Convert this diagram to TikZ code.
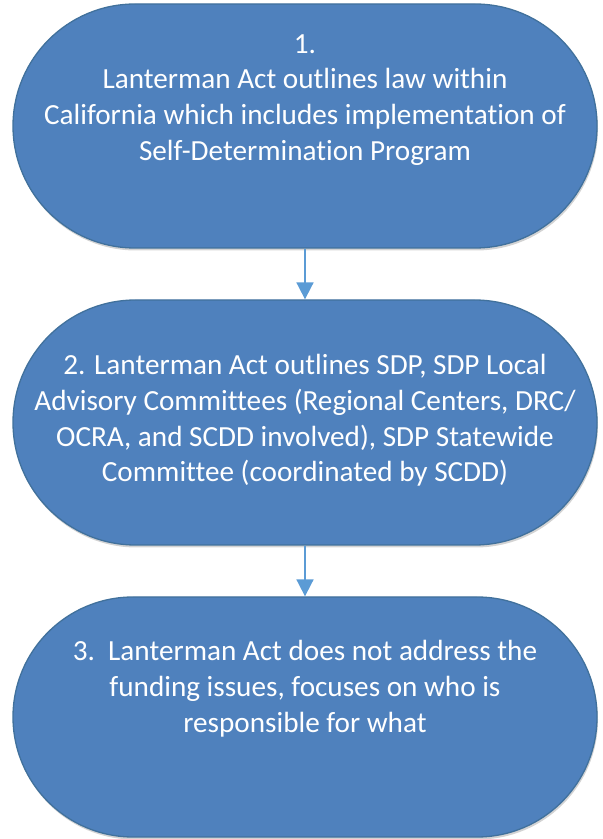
\documentclass[tikz,border=0pt]{standalone}
\usepackage{fontspec}
\setmainfont{Carlito}[Ligatures=NoCommon]
\usetikzlibrary{shapes.misc,shadows,arrows.meta}
\definecolor{boxfill}{HTML}{4F81BD}
\definecolor{boxline}{HTML}{41719C}
\definecolor{arrowblue}{HTML}{5B9BD5}
\tikzset{
	stadium/.style={rounded rectangle, draw=boxline, line width=1.3pt, fill=boxfill, minimum width=584pt, inner sep=0pt,
		drop shadow={shadow xshift=1pt, shadow yshift=-2.5pt, opacity=0.35}},
	boxtext/.style={text=white, align=center, font=\fontsize{29.2}{35.8}\selectfont},
	flowarrow/.style={draw=arrowblue, line width=1.8pt, -{Triangle[width=17pt,length=17pt]}}
}

\begin{document}
\begin{tikzpicture}[x=1pt, y=1pt]
		%%%%% START %%%%%
		\useasboundingbox (0, 0) rectangle (603, 839);
		
		\node[stadium, minimum height=244pt] (s1) at (305, 713) {};
		\node[stadium, minimum height=245pt] (s2) at (305, 416.5) {};
		\node[stadium, minimum height=240pt] (s3) at (305, 122) {};
		
		\node[boxtext] (t1) at ([yshift=26pt]s1.center) {1.\\Lanterman Act outlines law within\\California which includes implementation of\\Self-Determination Program};
		\node[boxtext] (t2) at ([yshift=2pt]s2.center) {2. Lanterman Act outlines SDP, SDP Local\\Advisory Committees (Regional Centers, DRC/\\OCRA, and SCDD involved), SDP Statewide\\Committee (coordinated by SCDD)};
		\node[boxtext] (t3) at ([yshift=28pt]s3.center) {3.\ \ Lanterman Act does not address the\\funding issues, focuses on who is\\responsible for what};
		
		\draw[flowarrow] (s1.south) -- (s2.north);
		\draw[flowarrow] (s2.south) -- (s3.north);
		
		%%%%% END %%%%%
	\end{tikzpicture}
\end{document}
